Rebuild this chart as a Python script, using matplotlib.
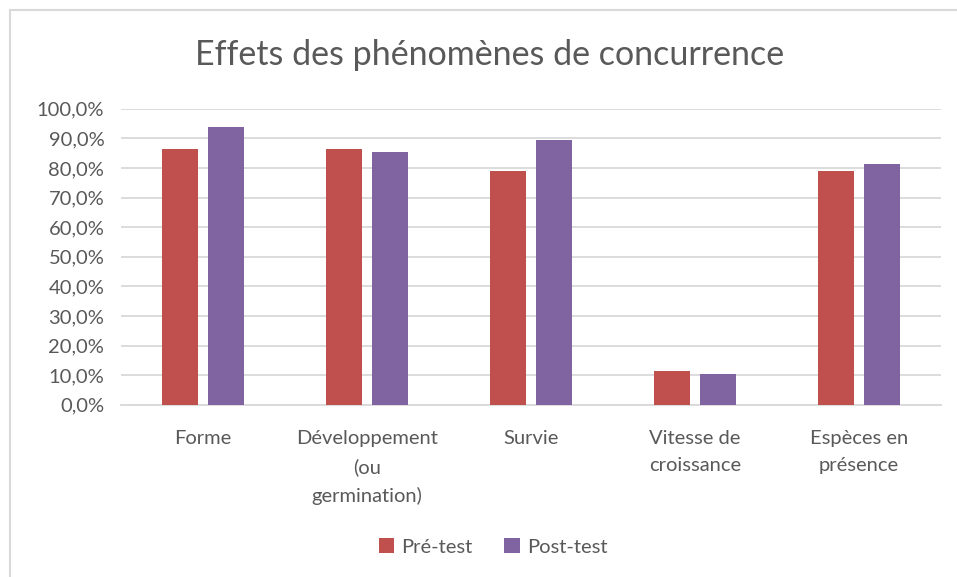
import matplotlib.pyplot as plt
from matplotlib.patches import Rectangle
from matplotlib.ticker import FuncFormatter
import numpy as np

categories = ['Forme', 'Développement\n(ou\ngermination)', 'Survie',
              'Vitesse de\ncroissance', 'Espèces en\nprésence']
pre_test = [86.5, 86.5, 78.9, 11.5, 78.9]
post_test = [93.7, 85.4, 89.5, 10.4, 81.2]
series_names = ['Pré-test', 'Post-test']
title = 'Effets des phénomènes de concurrence'

plt.rcParams['font.family'] = ['Lato', 'DejaVu Sans']
text_color = '#595959'
grid_color = '#D9D9D9'

W, H = 957, 577
fig = plt.figure(figsize=(W / 100, H / 100), dpi=100)
ax = fig.add_axes([121 / W, 1 - 404.7 / H, (941 - 121) / W, (404.7 - 108.7) / H])

# cadre du graphique
fig.patches.append(Rectangle((10 / W, -0.05), 1.2, 1 - 10 / H + 0.05,
                             transform=fig.transFigure, fill=False,
                             edgecolor=grid_color, linewidth=1.5))

x = np.arange(len(categories))
width = 0.22
gap = 0.06
ax.bar(x - (width + gap) / 2, pre_test, width=width, color='#C0504D',
       label=series_names[0], zorder=3)
ax.bar(x + (width + gap) / 2, post_test, width=width, color='#8064A2',
       label=series_names[1], zorder=3)

ax.set_xlim(-0.5, len(categories) - 0.5)
ax.set_ylim(0, 100)
ax.set_yticks(np.arange(0, 101, 10))
ax.yaxis.set_major_formatter(FuncFormatter(lambda v, p: f'{v:.1f}%'.replace('.', ',')))
ax.grid(axis='y', color=grid_color, linewidth=1.3, zorder=0)

ax.set_xticks(x)
ax.set_xticklabels(categories, linespacing=1.75)
ax.tick_params(axis='both', length=0, labelsize=14.5, colors=text_color)
ax.tick_params(axis='x', pad=18)
ax.tick_params(axis='y', pad=12)

for s in ['top', 'right', 'left']:
    ax.spines[s].set_visible(False)
ax.spines['bottom'].set_color(grid_color)
ax.spines['bottom'].set_linewidth(1.3)

fig.text(490 / W, 1 - 55 / H, title, ha='center', va='center',
         fontsize=24.5, color=text_color)

leg = fig.legend(loc='center', bbox_to_anchor=(493 / W, 1 - 547 / H), ncol=2,
                 frameon=False, fontsize=14.5, handlelength=0.75, handleheight=0.75,
                 handletextpad=0.35, columnspacing=1.6, labelcolor=text_color)

fig.savefig('out.png', dpi=100)
